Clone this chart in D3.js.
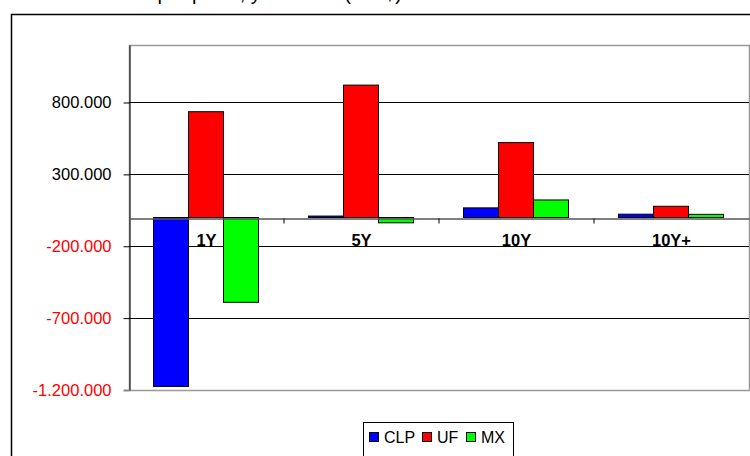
<!DOCTYPE HTML>
<html>
<head>
<meta charset="utf-8">
<title>Descalce por plazo y moneda</title>
<script type="text/javascript" src="https://cdn.jsdelivr.net/npm/d3@7"></script>
<style>
body{
    margin:0;
    background-color:#fff;
}
svg{
    display:block;
    font-family:Arial, "Liberation Sans", sans-serif;
}
</style>
</head>
<body>
<svg id="chart" width="750" height="456"></svg>
<script>
var categories = ["1Y", "5Y", "10Y", "10Y+"];
var seriesNames = ["CLP", "UF", "MX"];
var seriesColors = ["#0000ff", "#ff0000", "#00ff00"];
var clpValues = [-1175000, 10000, 67000, 23000];
var ufValues = [736000, 921000, 521000, 78000];
var mxValues = [-590000, -37000, 122000, 22000];
var tickValues = [-1200000, -700000, -200000, 300000, 800000];
var chartTitle = "Descalce por plazo, y moneda (MM$)";

function fmt(v){
    return d3.format(",.0f")(v).replace(/,/g, ".").replace("−", "-");
}

function drawChart(){
    var svg = d3.select("#chart");
    var left = 129, right = 749, top = 45, bottom = 390;
    var allSeries = [clpValues, ufValues, mxValues];

    // outer chart frame, runs off the page on the right and bottom
    svg.append("rect")
        .attr("x", 11.5).attr("y", 14.5)
        .attr("width", 760).attr("height", 460)
        .attr("fill", "none")
        .attr("stroke", "#000")
        .attr("stroke-width", 1.5);

    // title, cut off above the frame (only descenders show)
    svg.append("text")
        .attr("x", 402).attr("y", 0)
        .attr("text-anchor", "end")
        .style("font-size", "20px")
        .text(chartTitle);

    var y = d3.scaleLinear().domain([-1200000, 1200000]).range([bottom, top]);
    var x0 = d3.scaleBand().domain(categories).range([left, right]);
    var x1 = d3.scaleBand().domain(seriesNames).range([0, 105]);

    // plot area border
    svg.append("rect")
        .attr("x", left + 0.5).attr("y", top + 0.5)
        .attr("width", right - left).attr("height", bottom - top)
        .attr("fill", "none")
        .attr("stroke", "#999")
        .attr("stroke-width", 1.5);

    // gridlines
    svg.append("g").selectAll("line")
        .data(tickValues.filter(function(d){ return d > -1200000; }))
        .enter().append("line")
        .attr("x1", left).attr("x2", right)
        .attr("y1", function(d){ return Math.round(y(d)) + 0.5; })
        .attr("y2", function(d){ return Math.round(y(d)) + 0.5; })
        .attr("stroke", "#000")
        .attr("stroke-width", 1);

    // value axis
    var yAxis = d3.axisLeft(y).tickValues(tickValues).tickSize(6).tickSizeOuter(0).tickPadding(12).tickFormat(fmt);
    var ga = svg.append("g")
        .attr("transform", "translate(" + (left + 0.5) + ",0)")
        .call(yAxis);
    ga.select(".domain").attr("stroke", "#000");
    ga.selectAll(".tick text")
        .style("font-size", "16.5px")
        .style("font-family", "Arial, 'Liberation Sans', sans-serif")
        .attr("fill", function(d){ return d < 0 ? "#ff0000" : "#000"; });
    ga.selectAll(".tick line").attr("stroke", "#000");
    ga.selectAll(".tick").filter(function(d){ return d === -1200000; })
        .select("line").attr("stroke", "#888").attr("stroke-width", 2);

    // bars
    var groups = svg.append("g").selectAll("g")
        .data(categories)
        .enter().append("g")
        .attr("transform", function(d){ return "translate(" + (x0(d) + (x0.bandwidth() - 105) / 2 - 1) + ",0)"; });

    groups.selectAll("rect")
        .data(function(d, i){
            return seriesNames.map(function(s, j){ return {name: s, value: allSeries[j][i], color: seriesColors[j]}; });
        })
        .enter().append("rect")
        .attr("x", function(d){ return x1(d.name) + 0.5; })
        .attr("y", function(d){ return Math.min(y(d.value), y(0)); })
        .attr("width", x1.bandwidth())
        .attr("height", function(d){ return Math.abs(y(d.value) - y(0)); })
        .attr("fill", function(d){ return d.color; })
        .attr("stroke", "#000")
        .attr("stroke-width", 1);

    // category axis on the zero line
    var xAxis = d3.axisBottom(x0).tickSize(0).tickPadding(16);
    var gx = svg.append("g")
        .attr("transform", "translate(0," + (Math.round(y(0)) + 0.5) + ")")
        .call(xAxis);
    gx.select(".domain").attr("stroke", "#555").attr("stroke-width", 1.5);
    gx.selectAll(".tick text")
        .style("font-size", "16.5px")
        .style("font-weight", "bold")
        .style("font-family", "Arial, 'Liberation Sans', sans-serif")
        .attr("fill", "#000");
    gx.selectAll(".sep")
        .data(categories.slice(1))
        .enter().append("line")
        .attr("class", "sep")
        .attr("x1", function(d){ return x0(d); })
        .attr("x2", function(d){ return x0(d); })
        .attr("y1", 0).attr("y2", 5)
        .attr("stroke", "#000");

    // legend
    var lg = svg.append("g").attr("transform", "translate(363,422)");
    lg.append("rect")
        .attr("x", 0.5).attr("y", 0.5)
        .attr("width", 150).attr("height", 40)
        .attr("fill", "#fff")
        .attr("stroke", "#000");
    var legendX = [6, 59, 103];
    var items = lg.selectAll(".item")
        .data(seriesNames)
        .enter().append("g")
        .attr("class", "item")
        .attr("transform", function(d, i){ return "translate(" + legendX[i] + ",0)"; });
    items.append("rect")
        .attr("x", 0.5).attr("y", 10.5)
        .attr("width", 9).attr("height", 9)
        .attr("fill", function(d, i){ return seriesColors[i]; })
        .attr("stroke", "#000");
    items.append("text")
        .attr("x", 15).attr("y", 21)
        .style("font-size", "16px")
        .text(function(d){ return d; });
}

drawChart();
</script>
</body>
</html>
